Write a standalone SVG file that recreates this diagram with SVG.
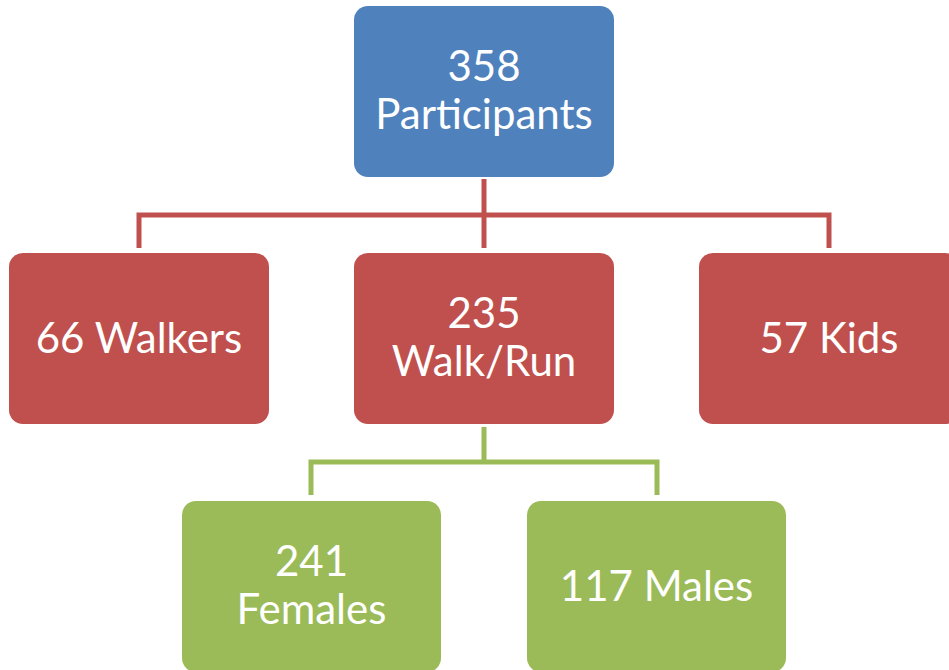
<svg xmlns="http://www.w3.org/2000/svg" width="949" height="670" viewBox="0 0 949 670">
<style>
.box{stroke:none}
.blue{fill:#4F81BD}
.red{fill:#C0504D}
.green{fill:#9BBB59}
.t{font-family:Lato,"Open Sans","Liberation Sans",sans-serif;font-size:42px;fill:#FFFFFF;text-anchor:middle}
.cr{fill:none;stroke:#C0504D;stroke-width:5}
.cg{fill:none;stroke:#9BBB59;stroke-width:5}
</style>
<rect width="949" height="670" fill="#FFFFFF"/>
<g id="connectors">
<path class="cr" d="M484,179 V248"/>
<path class="cr" d="M139,248 V215 H829 V248"/>
<path class="cg" d="M484,427 V462"/>
<path class="cg" d="M311,495 V462 H657 V495"/>
</g>
<g id="participants">
<rect class="box blue" x="354" y="6" width="260" height="171" rx="14"/>
<text class="t" x="484" y="81">358</text>
<text class="t" x="484" y="129">Participants</text>
</g>
<g id="walkers">
<rect class="box red" x="9" y="253" width="260" height="171" rx="14"/>
<text class="t" x="139" y="353">66 Walkers</text>
</g>
<g id="walkrun">
<rect class="box red" x="354" y="253" width="260" height="171" rx="14"/>
<text class="t" x="484" y="328">235</text>
<text class="t" x="484" y="376">Walk/Run</text>
</g>
<g id="kids">
<rect class="box red" x="699" y="253" width="260" height="171" rx="14"/>
<text class="t" x="829" y="353">57 Kids</text>
</g>
<g id="females">
<rect class="box green" x="182" y="501" width="259" height="171" rx="14"/>
<text class="t" x="311.5" y="576">241</text>
<text class="t" x="311.5" y="624">Females</text>
</g>
<g id="males">
<rect class="box green" x="527" y="501" width="259" height="171" rx="14"/>
<text class="t" x="656.5" y="601">117 Males</text>
</g>
</svg>
